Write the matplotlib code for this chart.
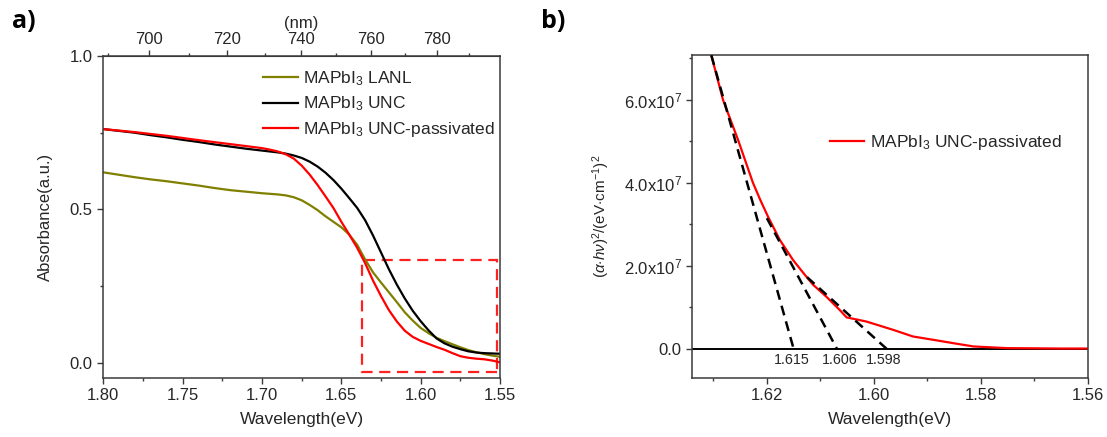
import matplotlib
matplotlib.use("Agg")
import matplotlib.pyplot as plt
from matplotlib.patches import Rectangle
from matplotlib.ticker import MultipleLocator, FixedLocator, FuncFormatter

plt.rcParams['font.family'] = ['Liberation Sans', 'DejaVu Sans']
plt.rcParams['mathtext.fontset'] = 'custom'
plt.rcParams['mathtext.rm'] = 'Liberation Sans'
plt.rcParams['mathtext.it'] = 'Liberation Sans:italic'
plt.rcParams['mathtext.bf'] = 'Liberation Sans:bold'

TXT = '#262626'
SPINE = '#3a3a3a'

# ---------------- Panel a data ----------------
e_unc = [1.80, 1.79, 1.78, 1.77, 1.76, 1.75, 1.74, 1.73, 1.72, 1.71, 1.70, 1.69, 1.685,
         1.68, 1.675, 1.67, 1.665, 1.66, 1.655, 1.65, 1.645, 1.64, 1.635, 1.63, 1.625,
         1.62, 1.615, 1.61, 1.605, 1.60, 1.595, 1.59, 1.585, 1.58, 1.575, 1.57, 1.565,
         1.56, 1.555, 1.55]
a_unc = [0.762, 0.756, 0.750, 0.742, 0.735, 0.727, 0.720, 0.712, 0.705, 0.698, 0.692, 0.686, 0.682,
         0.676, 0.668, 0.656, 0.640, 0.620, 0.596, 0.568, 0.537, 0.505, 0.465, 0.415, 0.360,
         0.305, 0.255, 0.210, 0.170, 0.136, 0.106, 0.080, 0.064, 0.053, 0.045, 0.038, 0.034,
         0.032, 0.031, 0.030]

e_pas = [1.80, 1.78, 1.76, 1.74, 1.72, 1.70, 1.695, 1.69, 1.685, 1.68, 1.675, 1.67, 1.665,
         1.66, 1.655, 1.65, 1.645, 1.64, 1.635, 1.63, 1.625, 1.62, 1.615, 1.61, 1.605, 1.60,
         1.595, 1.59, 1.585, 1.58, 1.575, 1.57, 1.565, 1.56, 1.555, 1.55]
a_pas = [0.762, 0.752, 0.740, 0.726, 0.713, 0.700, 0.695, 0.689, 0.680, 0.666, 0.643, 0.614, 0.580,
         0.543, 0.505, 0.460, 0.418, 0.375, 0.325, 0.268, 0.218, 0.172, 0.135, 0.105, 0.085, 0.072,
         0.062, 0.052, 0.043, 0.032, 0.022, 0.017, 0.014, 0.012, 0.008, 0.002]

e_lanl = [1.80, 1.79, 1.78, 1.77, 1.76, 1.75, 1.74, 1.73, 1.72, 1.71, 1.70, 1.69, 1.685,
          1.68, 1.675, 1.67, 1.665, 1.66, 1.655, 1.65, 1.645, 1.64, 1.635, 1.63, 1.625,
          1.62, 1.615, 1.61, 1.605, 1.60, 1.595, 1.59, 1.585, 1.58, 1.575, 1.57, 1.565,
          1.56, 1.555, 1.55]
a_lanl = [0.621, 0.613, 0.605, 0.598, 0.592, 0.585, 0.578, 0.570, 0.563, 0.558, 0.553, 0.549, 0.546,
          0.540, 0.530, 0.515, 0.498, 0.478, 0.460, 0.442, 0.418, 0.385, 0.337, 0.295, 0.262,
          0.230, 0.198, 0.165, 0.138, 0.114, 0.097, 0.082, 0.071, 0.061, 0.051, 0.042, 0.035,
          0.029, 0.024, 0.020]

box_e = (1.637, 1.552)
box_a = (-0.031, 0.337)

# ---------------- Panel b data ----------------
e_b = [1.6312, 1.6304, 1.6282, 1.6254, 1.6240, 1.6226, 1.6212, 1.6198, 1.6176, 1.6151, 1.6130,
       1.6114, 1.6089, 1.6064, 1.6051, 1.6014, 1.5964, 1.5927, 1.5889, 1.5852, 1.5814, 1.5752,
       1.5700, 1.5650, 1.5600]
y_b = [7.35e7, 7.08e7, 6.0e7, 5.04e7, 4.52e7, 4.0e7, 3.58e7, 3.19e7, 2.63e7, 2.14e7, 1.80e7,
       1.55e7, 1.26e7, 0.94e7, 0.76e7, 0.66e7, 0.46e7, 0.30e7, 0.22e7, 0.14e7, 0.06e7, 0.02e7,
       0.015e7, 0.01e7, 0.01e7]

tan1_e = [1.6312, 1.6150]
tan1_y = [7.45e7, 0.0]
tan2_e = [1.6200, 1.6069]
tan2_y = [3.15e7, 0.0]
tan3_e = [1.6125, 1.5976]
tan3_y = [1.73e7, 0.0]
gap_labels = ['1.615', '1.606', '1.598']
gap_e = [1.6153, 1.6064, 1.5981]

HC = 1239.84

fig = plt.figure(figsize=(11.07, 4.37), dpi=100)
axa = fig.add_axes([0.0933, 0.135, 0.3584, 0.7368])
axb = fig.add_axes([0.6251, 0.135, 0.3577, 0.739])


def style(ax):
    for s in ax.spines.values():
        s.set_color(SPINE)
        s.set_linewidth(1.1)
    ax.tick_params(which='both', direction='out', colors=SPINE, labelcolor=TXT,
                   labelsize=12, top=False, right=False)
    ax.tick_params(which='major', length=4, width=1.0)
    ax.tick_params(which='minor', length=2.5, width=1.0)


# ---- panel a ----
axa.plot(e_lanl, a_lanl, color='#808000', lw=1.6, label=r'MAPbI$_3$ LANL')
axa.plot(e_unc, a_unc, color='black', lw=1.6, label=r'MAPbI$_3$ UNC')
axa.plot(e_pas, a_pas, color='#ff0000', lw=1.6, label=r'MAPbI$_3$ UNC-passivated')
axa.add_patch(Rectangle((box_e[1], box_a[0]), box_e[0] - box_e[1], box_a[1] - box_a[0],
                        fill=False, edgecolor='#ff2020', lw=1.6, linestyle=(0, (5, 3))))
axa.set_xlim(1.80, 1.55)
axa.set_ylim(-0.049, 1.0)
axa.xaxis.set_major_locator(MultipleLocator(0.05))
axa.xaxis.set_minor_locator(MultipleLocator(0.025))
axa.yaxis.set_major_locator(MultipleLocator(0.5))
axa.yaxis.set_minor_locator(MultipleLocator(0.25))
axa.xaxis.set_major_formatter(FuncFormatter(lambda v, p: f'{v:.2f}'))
axa.yaxis.set_major_formatter(FuncFormatter(lambda v, p: f'{v:.1f}'))
style(axa)
axa.set_xlabel('Wavelength(eV)', fontsize=12.5, color=TXT, labelpad=6)
axa.set_ylabel('Absorbance(a.u.)', fontsize=12, color=TXT, labelpad=12)

sec = axa.secondary_xaxis('top', functions=(lambda e: HC / e, lambda n: HC / n))
sec.xaxis.set_major_locator(FixedLocator([700, 720, 740, 760, 780]))
sec.xaxis.set_minor_locator(FixedLocator([690, 710, 730, 750, 770, 790]))
sec.tick_params(which='both', direction='out', colors=SPINE, labelcolor=TXT, labelsize=12, pad=2.5)
sec.tick_params(which='major', length=4, width=1.0)
sec.tick_params(which='minor', length=2.5, width=1.0)
sec.spines['top'].set_color(SPINE)
sec.set_xlabel('(nm)', fontsize=12, color=TXT, labelpad=3)

leg = axa.legend(loc='upper left', bbox_to_anchor=(0.385, 0.98), frameon=False,
                 fontsize=12.5, handlelength=2.0, handletextpad=0.3, labelspacing=0.38,
                 borderaxespad=0.0)
for t in leg.get_texts():
    t.set_color(TXT)

# ---- panel b ----
axb.axhline(0, color='black', lw=1.4, zorder=1)
axb.plot(e_b, y_b, color='#ff0000', lw=1.6, label=r'MAPbI$_3$ UNC-passivated', zorder=2)
for te, ty in [(tan1_e, tan1_y), (tan2_e, tan2_y), (tan3_e, tan3_y)]:
    axb.plot(te, ty, color='black', lw=1.8, linestyle=(0, (4, 2.5)), zorder=3)
for lab, ge in zip(gap_labels, gap_e):
    axb.text(ge, -0.265e7, lab, ha='center', va='center', fontsize=10.3, color=TXT)
axb.set_xlim(1.634, 1.56)
axb.set_ylim(-0.70e7, 7.08e7)
axb.xaxis.set_major_locator(MultipleLocator(0.02))
axb.xaxis.set_minor_locator(MultipleLocator(0.01))
axb.yaxis.set_major_locator(MultipleLocator(2e7))
axb.yaxis.set_minor_locator(MultipleLocator(1e7))
axb.xaxis.set_major_formatter(FuncFormatter(lambda v, p: f'{v:.2f}'))


def yfmt(v, p):
    if abs(v) < 1:
        return '0.0'
    return r'%.1fx10$^{7}$' % (v / 1e7)


axb.yaxis.set_major_formatter(FuncFormatter(yfmt))
style(axb)
axb.set_xlabel('Wavelength(eV)', fontsize=12.5, color=TXT, labelpad=6)
axb.set_ylabel(r'$(\alpha{\cdot}h\nu)^2$/(eV$\cdot$cm$^{-1}$)$^2$', fontsize=11, color=TXT, labelpad=8)
legb = axb.legend(loc='upper left', bbox_to_anchor=(0.33, 0.78), frameon=False,
                  fontsize=12.5, handlelength=2.0, handletextpad=0.3, borderaxespad=0.0)
for t in legb.get_texts():
    t.set_color(TXT)

fig.text(0.011, 0.935, 'a)', fontsize=18, fontweight='bold', family=['Open Sans', 'DejaVu Sans'], color='black')
fig.text(0.489, 0.935, 'b)', fontsize=18, fontweight='bold', family=['Open Sans', 'DejaVu Sans'], color='black')

fig.savefig('out.png', dpi=100)
